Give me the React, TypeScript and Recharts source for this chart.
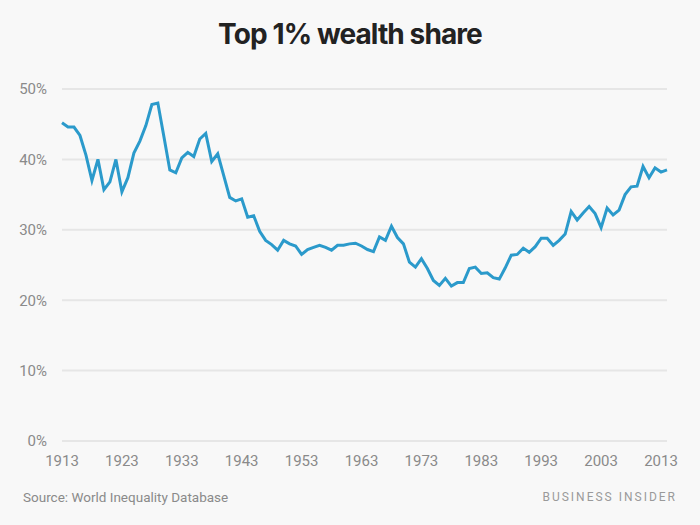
import { LineChart, Line, XAxis, YAxis, CartesianGrid } from "recharts";

const years = [
  1913, 1914, 1915, 1916, 1917, 1918, 1919, 1920, 1921, 1922,
  1923, 1924, 1925, 1926, 1927, 1928, 1929, 1930, 1931, 1932,
  1933, 1934, 1935, 1936, 1937, 1938, 1939, 1940, 1941, 1942,
  1943, 1944, 1945, 1946, 1947, 1948, 1949, 1950, 1951, 1952,
  1953, 1954, 1955, 1956, 1957, 1958, 1959, 1960, 1961, 1962,
  1963, 1964, 1965, 1966, 1967, 1968, 1969, 1970, 1971, 1972,
  1973, 1974, 1975, 1976, 1977, 1978, 1979, 1980, 1981, 1982,
  1983, 1984, 1985, 1986, 1987, 1988, 1989, 1990, 1991, 1992,
  1993, 1994, 1995, 1996, 1997, 1998, 1999, 2000, 2001, 2002,
  2003, 2004, 2005, 2006, 2007, 2008, 2009, 2010, 2011, 2012,
  2013, 2014,
];

// top 1% wealth share, percent
const share = [
  45.2, 44.6, 44.6, 43.4, 40.6, 37.0, 40.0, 35.7, 36.8, 40.0,
  35.4, 37.4, 40.9, 42.6, 44.8, 47.8, 48.0, 43.3, 38.5, 38.1,
  40.2, 41.0, 40.4, 42.9, 43.7, 39.7, 40.8, 37.7, 34.6, 34.1,
  34.4, 31.8, 32.0, 29.8, 28.5, 27.9, 27.1, 28.5, 28.0, 27.7,
  26.5, 27.2, 27.5, 27.8, 27.5, 27.1, 27.8, 27.8, 28.0, 28.1,
  27.7, 27.2, 26.9, 29.0, 28.5, 30.5, 28.9, 28.0, 25.4, 24.7,
  25.9, 24.5, 22.8, 22.1, 23.1, 22.0, 22.5, 22.5, 24.5, 24.7,
  23.8, 23.9, 23.2, 23.0, 24.6, 26.4, 26.5, 27.4, 26.8, 27.6,
  28.8, 28.8, 27.8, 28.5, 29.4, 32.6, 31.4, 32.4, 33.3, 32.3,
  30.3, 33.1, 32.1, 32.8, 35.0, 36.1, 36.2, 39.0, 37.4, 38.8,
  38.2, 38.5,
];

const xTicks = [1913, 1923, 1933, 1943, 1953, 1963, 1973, 1983, 1993, 2003, 2013];
const yTicks = [0, 10, 20, 30, 40, 50];

const data = years.map((year, i) => ({ year, share: share[i] }));

const tickStyle = { fill: "#8a8a8a", fontSize: 15, fontFamily: "Roboto, sans-serif" };

export default function App() {
  return (
    <div
      style={{
        position: "fixed",
        left: 0,
        top: 0,
        width: 700,
        height: 525,
        background: "#f8f8f8",
        overflow: "hidden",
      }}
    >
      <div
        style={{
          position: "absolute",
          top: 17,
          width: 700,
          textAlign: "center",
          fontFamily: "Inter, sans-serif",
          fontWeight: 700,
          fontSize: 28,
          letterSpacing: -0.9,
          color: "#222",
        }}
      >
        Top 1% wealth share
      </div>
      <LineChart
        width={700}
        height={525}
        data={data}
        margin={{ top: 89, right: 33, bottom: 0, left: 12 }}
        style={{ position: "absolute", left: 0, top: 0 }}
      >
        <CartesianGrid vertical={false} stroke="#e6e6e6" strokeWidth={2} />
        <XAxis
          dataKey="year"
          type="number"
          domain={[1913, 2014]}
          ticks={xTicks}
          axisLine={false}
          tickLine={false}
          tickSize={0}
          tickMargin={14}
          height={84}
          tick={tickStyle}
          interval={0}
        />
        <YAxis
          domain={[0, 50]}
          ticks={yTicks}
          tickFormatter={(v: number) => `${v}%`}
          axisLine={false}
          tickLine={false}
          tickSize={0}
          tickMargin={15}
          width={50}
          tick={tickStyle}
        />
        <Line
          type="linear"
          dataKey="share"
          stroke="#2b9acb"
          strokeWidth={3}
          dot={false}
          isAnimationActive={false}
        />
      </LineChart>
      <div
        style={{
          position: "absolute",
          left: 23,
          top: 489,
          fontFamily: "Roboto, sans-serif",
          fontSize: 13.5,
          color: "#8a8a8a",
        }}
      >
        Source: World Inequality Database
      </div>
      <div
        style={{
          position: "absolute",
          right: 23,
          top: 490,
          fontFamily: "Roboto, sans-serif",
          fontSize: 12,
          letterSpacing: 2,
          color: "#9a9a9a",
        }}
      >
        BUSINESS INSIDER
      </div>
    </div>
  );
}
